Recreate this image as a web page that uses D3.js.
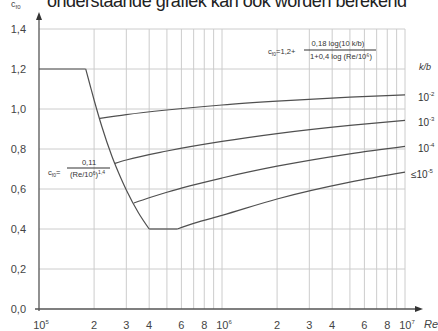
<!DOCTYPE html>
<html>
<head>
<meta charset="utf-8">
<script src="https://cdn.jsdelivr.net/npm/d3@7"></script>
<style>
  body { margin: 0; background: #fff; }
  svg { display: block; font-family: "Liberation Sans", Arial, sans-serif; }
</style>
</head>
<body>
<svg id="chart"></svg>
<script>
const width = 438;
const height = 331;

// tick values and labels
const xTicks = [1e5, 2e5, 3e5, 4e5, 6e5, 8e5, 1e6, 2e6, 3e6, 4e6, 6e6, 8e6, 1e7];
const xTickBase = ["10", "2", "3", "4", "6", "8", "10", "2", "3", "4", "6", "8", "10"];
const xTickSup = ["5", "", "", "", "", "", "6", "", "", "", "", "", "7"];
const xGrid = [2e5, 3e5, 4e5, 5e5, 6e5, 7e5, 8e5, 9e5, 1e6, 2e6, 3e6, 4e6, 5e6, 6e6, 7e6, 8e6, 9e6, 1e7];
const yTicks = [0, 0.2, 0.4, 0.6, 0.8, 1.0, 1.2, 1.4];
const yTickLabels = ["0,0", "0,2", "0,4", "0,6", "0,8", "1,0", "1,2", "1,4"];

// smooth cylinder curve [Re, c_f0]
const plateau = [[1e5, 1.2], [1.8e5, 1.2]];
const descent = [[1.8e5, 1.2], [1.9e5, 1.12], [2e5, 1.045], [2.2e5, 0.915], [2.5e5, 0.765],
                 [2.8e5, 0.655], [3e5, 0.595], [3.5e5, 0.48], [4e5, 0.40]];
const minimum = [[4e5, 0.40], [5.7e5, 0.40]];

// rough curves, one per k/b
const roughLabels = ["-2", "-3", "-4", "-5"];
const rough1 = [[2.15e5, 0.953], [3e5, 0.972], [5e5, 0.995], [1e6, 1.02], [2e6, 1.039], [5e6, 1.059], [1e7, 1.071]];
const rough2 = [[2.6e5, 0.728], [3e5, 0.745], [5e5, 0.79], [1e6, 0.838], [2e6, 0.877], [5e6, 0.918], [1e7, 0.943]];
const rough3 = [[3.3e5, 0.53], [4e5, 0.556], [5e5, 0.584], [1e6, 0.655], [2e6, 0.714], [5e6, 0.776], [1e7, 0.813]];
const rough4 = [[5.7e5, 0.40], [7e5, 0.428], [1e6, 0.468], [2e6, 0.55], [5e6, 0.634], [1e7, 0.684]];
const labelY = [1.06, 0.935, 0.805, 0.675];

const svg = d3.select("#chart")
  .attr("width", width)
  .attr("height", height)
  .attr("viewBox", [0, 0, width, height]);

const x = d3.scaleLog().domain([1e5, 1e7]).range([39, 405]);
const y = d3.scaleLinear().domain([0, 1.4]).range([309, 29]);

// title, cut at the top edge
svg.append("text")
  .attr("x", 47)
  .attr("y", 7)
  .attr("font-size", 18)
  .attr("fill", "#222")
  .attr("textLength", 360)
  .text("onderstaande grafiek kan ook worden berekend");

// grid
const grid = svg.append("g").attr("stroke", "#cccccc").attr("stroke-width", 1);
grid.selectAll("line.v")
  .data(xGrid)
  .join("line")
  .attr("x1", d => x(d)).attr("x2", d => x(d))
  .attr("y1", y(0)).attr("y2", y(1.4));
grid.selectAll("line.h")
  .data(yTicks.slice(1))
  .join("line")
  .attr("x1", x(1e5)).attr("x2", x(1e7))
  .attr("y1", d => y(d)).attr("y2", d => y(d));

// axes with arrows
const axisColor = "#555";
svg.append("line")
  .attr("x1", x(1e5) - 4).attr("x2", 420)
  .attr("y1", y(0)).attr("y2", y(0))
  .attr("stroke", axisColor).attr("stroke-width", 1.3);
svg.append("path")
  .attr("d", `M423,${y(0)} l-8,-3 l0,6 z`)
  .attr("fill", "#333");
svg.append("line")
  .attr("x1", x(1e5)).attr("x2", x(1e5))
  .attr("y1", y(0) + 2).attr("y2", 16)
  .attr("stroke", axisColor).attr("stroke-width", 1.3);
svg.append("path")
  .attr("d", `M${x(1e5)},12 l-3,8 l6,0 z`)
  .attr("fill", "#333");

// tick labels
const tickText = "#444";
svg.append("g")
  .selectAll("text")
  .data(yTicks)
  .join("text")
  .attr("x", 26)
  .attr("y", d => y(d) + 4)
  .attr("text-anchor", "end")
  .attr("font-size", 11)
  .attr("fill", tickText)
  .text((d, i) => yTickLabels[i]);

const xt = svg.append("g")
  .selectAll("text")
  .data(xTicks)
  .join("text")
  .attr("x", (d, i) => x(d) + (xTickSup[i] ? 2 : 0))
  .attr("y", 329)
  .attr("text-anchor", "middle")
  .attr("font-size", 11)
  .attr("fill", tickText);
xt.append("tspan").text((d, i) => xTickBase[i]);
xt.append("tspan")
  .attr("dy", -5)
  .attr("font-size", 6)
  .text((d, i) => xTickSup[i]);

svg.append("text")
  .attr("x", 424)
  .attr("y", 328)
  .attr("font-size", 11)
  .attr("font-style", "italic")
  .attr("fill", tickText)
  .text("Re");

const cLabel = svg.append("text")
  .attr("x", 11)
  .attr("y", 7)
  .attr("font-size", 9)
  .attr("fill", tickText);
cLabel.append("tspan").text("c");
cLabel.append("tspan").attr("dy", 2).attr("font-size", 6).text("f0");

// curves
const lineLin = d3.line().x(d => x(d[0])).y(d => y(d[1]));
const lineSmooth = d3.line().x(d => x(d[0])).y(d => y(d[1])).curve(d3.curveMonotoneX);
const curveColor = "#505050";

[plateau, minimum].forEach(s => {
  svg.append("path").attr("d", lineLin(s))
    .attr("fill", "none").attr("stroke", curveColor).attr("stroke-width", 1.2);
});
[descent, rough1, rough2, rough3, rough4].forEach(s => {
  svg.append("path").attr("d", lineSmooth(s))
    .attr("fill", "none").attr("stroke", curveColor).attr("stroke-width", 1.2);
});

// k/b labels
svg.append("text")
  .attr("x", 419).attr("y", 70)
  .attr("font-size", 9).attr("font-style", "italic")
  .attr("fill", "#333")
  .text("k/b");
const rl = svg.append("g")
  .selectAll("text")
  .data(roughLabels)
  .join("text")
  .attr("x", (d, i) => i === 3 ? 411 : 418)
  .attr("y", (d, i) => y(labelY[i]) + 4)
  .attr("font-size", 10)
  .attr("fill", "#333");
rl.append("tspan").text((d, i) => (i === 3 ? "≤" : "") + "10");
rl.append("tspan").attr("dy", -5).attr("font-size", 6).text(d => d);

// formula for the rough curves
const fs = 7.6;
const f1 = svg.append("g").attr("fill", "#333").attr("font-size", fs);
const f1a = f1.append("text").attr("x", 268).attr("y", 54);
f1a.append("tspan").text("c");
f1a.append("tspan").attr("dy", 1.5).attr("font-size", 5).text("f0");
f1a.append("tspan").attr("dy", -1.5).text("=1,2+");
f1.append("text").attr("x", 338).attr("y", 46).attr("text-anchor", "middle")
  .text("0,18 log(10 k/b)");
f1.append("line").attr("x1", 304).attr("x2", 376).attr("y1", 50).attr("y2", 50)
  .attr("stroke", "#333").attr("stroke-width", 1.1);
f1.append("text").attr("x", 341).attr("y", 59).attr("text-anchor", "middle")
  .text("1+0,4 log (Re/10⁶)");

// formula for the descending part
const f2 = svg.append("g").attr("fill", "#333").attr("font-size", fs);
const f2a = f2.append("text").attr("x", 48).attr("y", 175);
f2a.append("tspan").text("c");
f2a.append("tspan").attr("dy", 1.5).attr("font-size", 5).text("f0");
f2a.append("tspan").attr("dy", -1.5).text("=");
f2.append("text").attr("x", 89).attr("y", 165).attr("text-anchor", "middle").text("0,11");
f2.append("line").attr("x1", 67).attr("x2", 110).attr("y1", 168).attr("y2", 168)
  .attr("stroke", "#333").attr("stroke-width", 1.1);
const f2d = f2.append("text").attr("x", 70).attr("y", 177);
f2d.append("tspan").text("(Re/10");
f2d.append("tspan").attr("dy", -2.5).attr("font-size", 5).text("6");
f2d.append("tspan").attr("dy", 2.5).text(")");
f2d.append("tspan").attr("dy", -3).attr("font-size", 5).text("1,4");
</script>
</body>
</html>
